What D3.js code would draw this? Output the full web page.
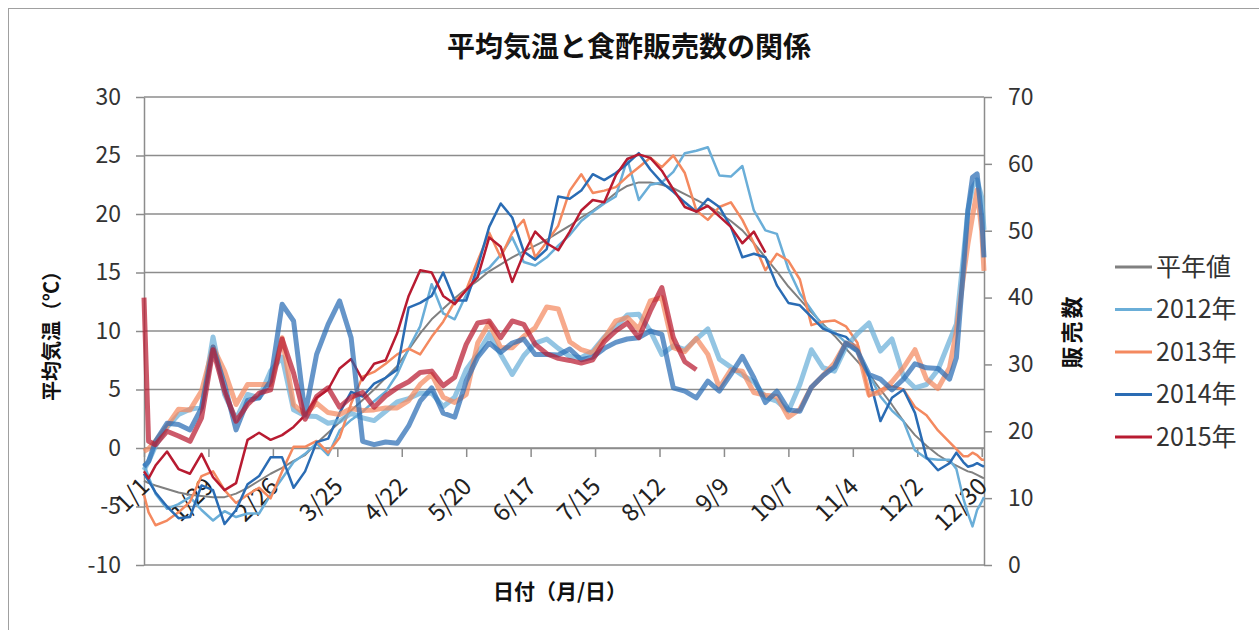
<!DOCTYPE html>
<html>
<head>
<meta charset="utf-8">
<script src="https://cdn.jsdelivr.net/npm/d3@7"></script>
<style>
  body { margin: 0; background: #fff; }
  text { font-family: "Noto Sans CJK JP", "Noto Sans", sans-serif; fill: #333; }
</style>
</head>
<body>
<svg id="chart"></svg>
<script>
// day of year (0 = 1/1) for every value below
const days = [0, 2, 5, 10, 15, 20, 25, 30, 35, 40, 45, 50, 55, 60, 65, 70, 75, 80, 85, 90,
  95, 100, 105, 110, 115, 120, 125, 130, 135, 140, 145, 150, 155, 160, 165, 170, 175, 180, 185, 190,
  195, 200, 205, 210, 215, 220, 225, 230, 235, 240, 245, 250, 255, 260, 265, 270, 275, 280, 285, 290,
  295, 300, 305, 310, 315, 320, 325, 330, 335, 340, 345, 350, 353, 356, 358, 360, 362, 364, 365];

const tickDays = [0, 28, 56, 84, 112, 140, 168, 196, 224, 252, 280, 308, 336, 364];
const tickLabels = ["1/1", "1/29", "2/26", "3/25", "4/22", "5/20", "6/17", "7/15", "8/12", "9/9", "10/7", "11/4", "12/2", "12/30"];

// temperature (left axis)
const tempNormal = [-2.8, -3.0, -3.2, -3.5, -3.8, -4.0, -4.1, -4.2, -4.2, -3.9,
  -3.4, -2.8, -2.2, -1.7, -1.1, -0.6, 0.4, 1.3, 2.2, 3.2,
  4.1, 5.0, 6.0, 7.0, 8.4, 9.8, 11.0, 11.9, 12.8, 13.6,
  14.3, 15.1, 15.7, 16.3, 16.8, 17.3, 17.8, 18.4, 19.0, 19.7,
  20.3, 21.0, 21.8, 22.4, 22.7, 22.7, 22.5, 22.2, 21.7, 21.2,
  20.7, 20.1, 19.4, 18.6, 17.5, 16.3, 15.1, 13.8, 12.7, 11.6,
  10.6, 9.6, 8.5, 7.4, 6.3, 5.0, 3.7, 2.3, 1.1, 0.2,
  -0.6, -1.2, -1.5, -1.8, -2.0, -2.1, -2.3, -2.5, -2.6];
const temp2012 = [-1.3, -2.5, -3.9, -5.2, -4.8, -4.2, -5.3, -6.2, -5.4, -5.9,
  -5.6, -5.6, -4.0, -2.6, -1.2, -0.5, 0.4, -0.6, 1.5, 2.4,
  3.1, 4.0, 4.8, 6.3, 8.5, 10.4, 14.0, 11.5, 11.0, 13.1,
  14.8, 15.4, 16.5, 18.0, 15.9, 15.6, 16.3, 17.3, 18.2, 19.4,
  20.2, 20.9, 21.5, 24.7, 21.2, 22.5, 22.7, 23.6, 25.2, 25.4,
  25.7, 23.3, 23.2, 24.1, 20.3, 18.6, 18.3, 15.3, 13.2, 11.8,
  10.4, 9.9, 9.0, 8.2, 6.3, 4.4, 3.2, 2.3, -0.2, -0.9,
  -1.0, -1.0, -1.8, -4.3, -5.6, -6.7, -5.3, -4.6, -4.2];
const temp2013 = [-4.0, -5.5, -6.6, -6.2, -5.5, -4.6, -2.4, -2.0, -3.6, -4.7,
  -4.0, -3.4, -4.3, -2.0, 0.1, 0.1, 0.6, -0.4, 0.9, 3.8,
  6.1, 6.5, 7.2, 8.0, 8.5, 8.0, 9.5, 10.8, 12.5, 13.5,
  16.0, 18.4, 16.3, 18.4, 19.5, 16.3, 17.6, 19.0, 22.0, 23.4,
  21.8, 22.0, 22.3, 23.2, 24.0, 24.8, 24.0, 25.0, 23.5, 20.3,
  19.5, 20.6, 21.0, 19.5, 17.5, 15.2, 16.6, 16.0, 14.4, 10.5,
  10.8, 10.9, 10.4, 9.0, 4.4, 5.0, 5.3, 5.0, 3.5, 2.8,
  1.5, 0.5, -0.1, -0.7, -0.7, -0.4, -0.6, -1.0, -1.0];
const temp2014 = [-2.2, -2.8, -3.8, -5.0, -6.0, -5.9, -3.2, -3.6, -6.5, -5.3,
  -3.1, -2.4, -0.8, -0.8, -3.4, -2.0, 0.5, 0.8, 3.0, 4.8,
  4.4, 5.5, 6.0, 6.7, 12.0, 12.4, 13.0, 15.0, 12.6, 12.6,
  15.5, 18.9, 20.9, 19.7, 16.8, 16.1, 17.0, 21.5, 21.3, 22.0,
  23.4, 22.9, 23.5, 24.3, 25.2, 23.8, 22.7, 21.9, 21.0, 20.2,
  21.3, 20.6, 18.9, 16.3, 16.6, 16.3, 13.9, 12.4, 12.2, 11.2,
  10.2, 9.8, 9.5, 8.5, 6.1, 2.3, 4.3, 5.0, 3.0, -0.8,
  -1.9, -1.3, -0.4, -1.2, -1.6, -1.5, -1.3, -1.5, -1.6];
const temp2015 = [-2.0, -2.6, -1.5, -0.3, -1.8, -2.2, -0.5, -2.5, -3.6, -3.0,
  0.7, 1.3, 0.7, 1.1, 1.8, 2.8, 4.3, 5.0, 6.8, 7.6,
  5.8, 7.2, 7.5, 9.8, 13.0, 15.2, 15.0, 13.0, 12.3, 13.5,
  14.6, 18.0, 17.2, 14.2, 16.6, 18.5, 17.5, 16.9, 18.5, 20.3,
  21.2, 21.0, 23.3, 24.7, 25.1, 24.8, 23.7, 22.1, 20.6, 20.2,
  20.7, 19.8, 18.9, 17.5, 18.5, 16.7, null, null, null, null,
  null, null, null, null, null, null, null, null, null, null,
  null, null, null, null, null, null, null, null, null];

// sales (right axis)
const sales2012 = [14.2, 15.5, 17.8, 20.6, 22.5, 23.3, 23.6, 34.1, 25.5, 21.8,
  25.5, 25.0, 29.0, 31.1, 23.2, 22.3, 22.2, 21.2, 21.5, 22.7,
  22.0, 21.6, 23.0, 24.4, 24.9, 25.7, 25.7, 23.7, 25.1, 29.2,
  31.6, 34.5, 31.5, 28.5, 31.3, 33.2, 33.8, 32.4, 31.2, 31.0,
  32.0, 34.1, 35.6, 37.4, 37.5, 35.0, 31.5, 32.8, 32.2, 33.8,
  35.3, 30.8, 29.6, 28.4, 27.4, 25.1, 24.5, 23.0, 27.0, 32.2,
  29.5, 29.0, 32.6, 34.6, 36.2, 32.0, 33.8, 28.2, 26.5, 27.0,
  29.2, 33.5, 36.0, 46.0, 53.0, 56.5, 57.6, 55.0, 50.1];
const sales2013 = [17.0, 17.4, 18.5, 20.8, 23.3, 23.2, 26.0, 32.6, 29.0, 24.0,
  27.0, 27.0, 27.0, 34.0, 24.0, 22.5, 24.2, 22.8, 22.5, 23.4,
  23.1, 23.2, 23.5, 23.5, 24.6, 27.0, 28.5, 25.1, 24.3, 25.5,
  33.2, 36.2, 32.5, 32.5, 34.2, 35.5, 38.6, 38.3, 33.4, 32.2,
  31.7, 33.9, 36.5, 37.0, 35.3, 39.5, 40.0, 32.5, 31.9, 33.9,
  31.5, 26.5, 29.2, 29.0, 25.8, 25.4, 25.2, 22.1, 23.3, 26.6,
  28.3, 30.2, 33.2, 32.6, 25.5, 25.8, 27.4, 29.5, 32.2, 27.8,
  26.4, 29.5, 35.0, 43.0, 48.0, 52.1, 56.1, 50.0, 44.0];
const sales2014 = [14.7, 15.5, 18.5, 21.2, 21.0, 20.2, 23.5, 32.6, 27.0, 20.2,
  24.6, 25.0, 27.5, 39.0, 36.5, 22.5, 31.5, 36.0, 39.5, 34.0,
  18.5, 18.0, 18.4, 18.2, 20.8, 24.5, 26.5, 22.7, 22.1, 27.5,
  31.1, 33.2, 31.8, 33.2, 33.8, 31.5, 31.5, 31.4, 32.3, 30.7,
  31.1, 32.4, 33.3, 33.8, 34.0, 35.0, 34.5, 26.5, 26.0, 25.0,
  27.5, 26.0, 28.5, 31.2, 28.0, 24.3, 26.0, 23.2, 23.0, 26.6,
  28.3, 29.6, 33.2, 32.0, 28.5, 27.8, 26.2, 27.8, 30.1, 29.5,
  29.4, 27.8, 31.0, 44.0, 53.0, 58.0, 58.5, 52.0, 46.0];
const sales2015 = [40.0, 18.5, 18.0, 20.0, 19.3, 18.5, 22.0, 32.2, 26.0, 21.5,
  24.0, 25.7, 26.2, 33.8, 28.7, 21.8, 25.2, 26.5, 23.6, 25.1,
  25.8, 23.6, 25.3, 26.5, 27.4, 28.8, 29.0, 26.8, 28.1, 33.0,
  36.2, 36.5, 34.0, 36.5, 36.0, 33.0, 31.6, 30.9, 30.6, 30.2,
  30.7, 33.4, 35.0, 36.2, 34.0, 38.0, 41.5, 34.0, 30.4, 29.2,
  null, null, null, null, null, null, null, null, null, null,
  null, null, null, null, null, null, null, null, null, null,
  null, null, null, null, null, null, null, null, null];

const legendNames = ["平年値", "2012年", "2013年", "2014年", "2015年"];
const colors = ["#808080", "#6aaed8", "#f4895f", "#2a6cb4", "#b81b31"];

const width = 1259,
  height = 630;
const m = { left: 144, right: 984, top: 97, bottom: 565 };

const svg = d3.select("#chart").attr("width", width).attr("height", height);

const x = d3.scaleLinear().domain([0, 365]).range([m.left, m.right]);
const yT = d3.scaleLinear().domain([-10, 30]).range([m.bottom, m.top]);
const yS = d3.scaleLinear().domain([0, 70]).range([m.bottom, m.top]);

// chart frame
svg.append("rect")
  .attr("x", 8.5).attr("y", 8.5)
  .attr("width", 1300).attr("height", 700)
  .attr("fill", "none").attr("stroke", "#a0a0a0");

// title
svg.append("text")
  .attr("x", 629).attr("y", 57)
  .attr("text-anchor", "middle")
  .attr("font-size", 28).attr("font-weight", "bold")
  .style("fill", "#111")
  .text("平均気温と食酢販売数の関係");

// horizontal gridlines
const gridVals = d3.range(-10, 31, 5);
svg.append("g")
  .selectAll("line")
  .data(gridVals)
  .enter()
  .append("line")
  .attr("x1", m.left).attr("x2", m.right)
  .attr("y1", (d) => yT(d)).attr("y2", (d) => yT(d))
  .attr("stroke", "#8c8c8c")
  .attr("stroke-width", 1.5);

function styleAxis(g) {
  g.selectAll("path, line").attr("stroke", "#8c8c8c").attr("stroke-width", 1.5);
  g.selectAll("text").attr("font-size", 23).attr("font-family", null).style("fill", "#333");
}

// plain hyphen minus like the original
const plain = (d) => String(d);

// left axis
svg.append("g")
  .attr("transform", `translate(${m.left},0)`)
  .call(d3.axisLeft(yT).tickValues(gridVals).tickSize(8).tickSizeOuter(0).tickPadding(15).tickFormat(plain))
  .call(styleAxis);

// right axis
svg.append("g")
  .attr("transform", `translate(${m.right},0)`)
  .call(d3.axisRight(yS).tickValues(d3.range(0, 71, 10)).tickSize(8).tickSizeOuter(0).tickPadding(16).tickFormat(plain))
  .call(styleAxis);

// category axis crossing at 0 degrees
svg.append("g")
  .attr("transform", `translate(0,${yT(0)})`)
  .call(d3.axisBottom(x).tickValues(tickDays).tickSize(9).tickSizeOuter(0).tickFormat(""))
  .call(styleAxis);

svg.append("g")
  .selectAll("text")
  .data(tickDays)
  .enter()
  .append("text")
  .attr("transform", (d) => `translate(${x(d) + 7},${yT(0) + 40}) rotate(-45)`)
  .attr("text-anchor", "end")
  .attr("font-size", 24)
  .style("fill", "#222")
  .text((d, i) => tickLabels[i]);

// axis titles
svg.append("text")
  .attr("transform", "translate(59,331) rotate(-90)")
  .attr("text-anchor", "middle")
  .attr("font-size", 20).attr("font-weight", "bold")
  .style("fill", "#111")
  .text("平均気温（℃）");

svg.append("text")
  .attr("transform", "translate(1080,331) rotate(-90)")
  .attr("text-anchor", "middle")
  .attr("font-size", 22).attr("font-weight", "bold")
  .attr("letter-spacing", 3)
  .style("fill", "#111")
  .text("販売数");

svg.append("text")
  .attr("x", 560).attr("y", 599)
  .attr("text-anchor", "middle")
  .attr("font-size", 21).attr("font-weight", "bold")
  .style("fill", "#111")
  .text("日付（月/日）");

// lines
const lineT = d3.line()
  .defined((v) => v != null)
  .x((v, i) => x(days[i]))
  .y((v) => yT(v));
const lineS = d3.line()
  .defined((v) => v != null)
  .x((v, i) => x(days[i]))
  .y((v) => yS(v));

const tempSeries = [tempNormal, temp2012, temp2013, temp2014, temp2015];
const salesSeries = [sales2012, sales2013, sales2014, sales2015];

svg.append("g")
  .selectAll("path")
  .data(tempSeries)
  .enter()
  .append("path")
  .attr("d", lineT)
  .attr("fill", "none")
  .attr("stroke", (d, i) => colors[i])
  .attr("stroke-width", (d, i) => (i === 0 ? 2 : 2.5))
  .attr("stroke-linejoin", "round");

svg.append("g")
  .selectAll("path")
  .data(salesSeries)
  .enter()
  .append("path")
  .attr("d", lineS)
  .attr("fill", "none")
  .attr("stroke", (d, i) => colors[i + 1])
  .attr("stroke-opacity", 0.72)
  .attr("stroke-width", 5)
  .attr("stroke-linejoin", "round");

// legend
const legend = svg.append("g")
  .selectAll("g")
  .data(legendNames)
  .enter()
  .append("g")
  .attr("transform", (d, i) => `translate(1115,${267 + i * 42.5})`);

legend.append("line")
  .attr("x1", 0).attr("x2", 37)
  .attr("stroke", (d, i) => colors[i])
  .attr("stroke-width", 3);

legend.append("text")
  .attr("x", 41).attr("dy", "0.35em")
  .attr("font-size", 25)
  .style("fill", "#333")
  .text((d) => d);
</script>
</body>
</html>
